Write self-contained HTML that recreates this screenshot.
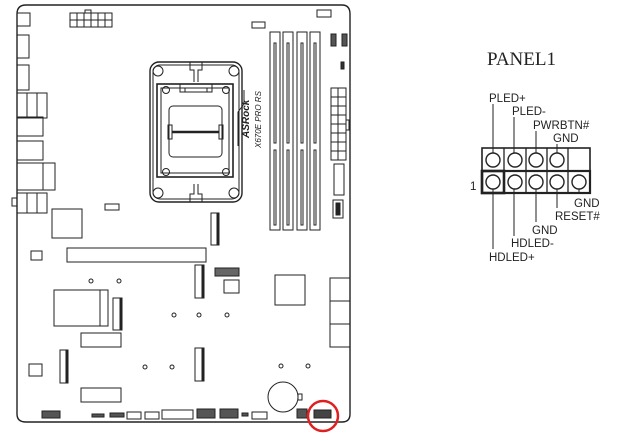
<!DOCTYPE html>
<html><head><meta charset="utf-8"><style>
html,body{margin:0;padding:0;background:#fff;width:621px;height:441px;overflow:hidden}
svg{display:block}
</style></head><body>
<svg width="621" height="441" viewBox="0 0 621 441" xmlns="http://www.w3.org/2000/svg">
<g fill="none" stroke="#222" stroke-width="1">
<!-- board -->
<path d="M17 14 Q17 5 26 5 L342 5 Q350 5 350 14 L350 414 Q350 422 342 422 L26 422 Q17 422 17 414 Z" stroke-width="1.4"/>
<!-- top power -->
<rect x="70" y="13" width="28" height="14"/><path d="M77 13v14M84 13v14M91 13v14M70 20h28"/>
<rect x="98" y="13" width="14" height="14"/><path d="M105 13v14M98 20h14"/>
<rect x="85" y="10" width="6" height="3"/>
<!-- left IO -->
<rect x="17" y="13" width="13" height="13"/>
<rect x="17" y="35" width="12" height="23"/>
<rect x="17" y="65" width="12" height="25"/>
<rect x="17" y="93" width="30" height="25"/><path d="M27 93v25M37 93v25"/>
<rect x="17" y="117" width="26" height="19"/>
<rect x="17" y="141" width="26" height="19"/>
<rect x="17" y="163" width="38" height="27"/><path d="M43 163v27"/>
<rect x="17" y="193" width="30" height="20"/><path d="M27 193v20M37 193v20"/>
<rect x="12" y="198" width="5" height="8"/>
<!-- fan headers top -->
<rect x="252" y="22" width="13" height="6"/>
<rect x="317" y="10" width="14" height="7"/>
<rect x="105" y="204" width="14" height="6"/>
<!-- DIMMs -->
<rect x="270" y="32" width="10" height="198"/><rect x="274" y="43" width="2" height="100"/><rect x="274" y="150" width="2" height="75"/>
<rect x="283" y="32" width="10" height="198"/><rect x="287" y="43" width="2" height="100"/><rect x="287" y="150" width="2" height="75"/>
<rect x="297" y="32" width="10" height="198"/><rect x="301" y="43" width="2" height="100"/><rect x="301" y="150" width="2" height="75"/>
<rect x="310" y="32" width="10" height="198"/><rect x="314" y="43" width="2" height="100"/><rect x="314" y="150" width="2" height="75"/>
<!-- right headers -->
<rect x="331" y="34" width="5" height="12" fill="#555"/><rect x="342" y="34" width="5" height="12" fill="#555"/>
<rect x="341" y="62" width="3" height="7" fill="#333"/>
<rect x="331" y="88" width="15" height="72"/><path d="M338 88v72M331 97h15M331 106h15M331 115h15M331 124h15M331 133h15M331 142h15M331 151h15"/>
<rect x="346" y="120" width="3" height="10"/>
<rect x="334" y="164" width="10" height="31"/>
<rect x="333" y="200" width="10" height="18"/><rect x="336" y="203" width="4" height="12" fill="#222"/>
<!-- CPU socket -->
<rect x="150" y="62" width="92" height="140" rx="9" stroke-width="1.4"/>
<rect x="153" y="65" width="86" height="134" rx="7"/>
<rect x="157" y="84" width="76" height="93" stroke-width="1.6"/>
<rect x="161" y="88" width="68" height="85"/>
<rect x="169" y="106" width="53" height="51" rx="4"/>
<rect x="168" y="125" width="4" height="14"/><rect x="219" y="125" width="4" height="14"/>
<path d="M172 132h47" stroke-width="2.5"/>
<circle cx="158" cy="71" r="5"/><circle cx="234" cy="71" r="5"/><circle cx="158" cy="193" r="5"/><circle cx="234" cy="193" r="5"/>
<circle cx="166" cy="90" r="3.5"/><circle cx="226" cy="90" r="3.5"/><circle cx="166" cy="172" r="3.5"/><circle cx="226" cy="172" r="3.5"/>
<path d="M190 62v8h4v12M202 62v8h-4v12M190 202v-8h4v-10M202 202v-8h-4v-10"/>
<path d="M180 84v8h32v-8M185 88v4M207 88v4"/>
<path d="M238 146V112l6-8v-14"/>
<!-- chips -->
<rect x="52" y="209" width="30" height="29"/>
<rect x="211" y="213" width="8" height="32"/><rect x="217" y="214" width="2" height="30" fill="#222"/>
<rect x="67" y="248" width="139" height="14"/>
<rect x="31" y="251" width="11" height="9"/>
<rect x="195" y="265" width="9" height="33"/><rect x="202" y="266" width="2" height="31" fill="#222"/>
<rect x="215" y="268" width="24" height="8" fill="#666"/>
<rect x="224" y="280" width="15" height="13"/>
<rect x="54" y="290" width="46" height="36"/><rect x="100" y="290" width="8" height="36"/>
<rect x="113" y="298" width="9" height="32"/><rect x="120" y="299" width="2" height="30" fill="#222"/>
<rect x="275" y="275" width="30" height="30"/>
<rect x="330" y="278" width="20" height="23"/><rect x="330" y="301" width="20" height="23"/><rect x="330" y="324" width="20" height="23"/>
<rect x="81" y="333" width="40" height="14"/>
<rect x="81" y="388" width="40" height="14"/>
<rect x="60" y="350" width="8" height="33"/><rect x="66" y="351" width="2" height="31" fill="#222"/>
<rect x="29" y="364" width="13" height="12"/>
<rect x="195" y="348" width="9" height="33"/><rect x="202" y="349" width="2" height="31" fill="#222"/>
<circle cx="91" cy="281" r="2"/><circle cx="119" cy="281" r="2"/>
<circle cx="174" cy="315" r="2"/><circle cx="199" cy="315" r="2"/><circle cx="227" cy="315" r="2"/>
<circle cx="145" cy="367" r="2"/><circle cx="172" cy="367" r="2"/>
<circle cx="281" cy="366" r="2"/><circle cx="308" cy="366" r="2"/>
<circle cx="283" cy="397" r="15"/><rect x="298" y="394" width="4" height="6"/>
<!-- bottom headers -->
<rect x="42" y="411" width="18" height="7" fill="#555"/>
<rect x="92" y="414" width="12" height="3" fill="#555"/>
<rect x="110" y="413" width="14" height="4" fill="#555"/>
<rect x="127" y="412" width="14" height="7"/>
<rect x="145" y="412" width="14" height="7"/>
<rect x="162" y="410" width="31" height="9"/>
<rect x="197" y="409" width="18" height="9" fill="#555"/>
<rect x="220" y="409" width="18" height="9" fill="#555"/>
<rect x="242" y="413" width="6" height="3" fill="#555"/>
<rect x="252" y="412" width="15" height="7"/>
<rect x="297" y="409" width="10" height="9" fill="#555"/>
<rect x="314" y="410" width="17" height="8" fill="#444"/>
</g>
<text x="0" y="0" transform="translate(249,138) rotate(-90)" font-family="Liberation Sans, sans-serif" font-size="10" font-weight="bold" font-style="italic" fill="#222">ASRock</text>
<text x="0" y="0" transform="translate(261,148) rotate(-90)" font-family="Liberation Sans, sans-serif" font-size="8" font-style="italic" fill="#222">X670E PRO RS</text>
<circle cx="323" cy="416" r="15" fill="none" stroke="#e02020" stroke-width="2.5"/>
<!-- PANEL -->
<text x="487" y="65" font-family="Liberation Serif, serif" font-size="19" fill="#222">PANEL1</text>
<g fill="none" stroke="#222">
<rect x="482" y="148" width="108" height="23" stroke-width="1.6"/>
<rect x="482" y="171" width="108" height="22" stroke-width="2.2"/>
<rect x="482" y="171" width="22" height="22" stroke-width="2.6"/>
<path d="M504 148v45M526 148v45M547 148v45M568 148v45" stroke-width="1.3"/>
<g stroke-width="1.4">
<circle cx="493" cy="160" r="7"/><circle cx="515" cy="160" r="7"/><circle cx="536" cy="160" r="7"/><circle cx="557" cy="160" r="7"/>
<circle cx="493" cy="182" r="7"/><circle cx="515" cy="182" r="7"/><circle cx="536" cy="182" r="7"/><circle cx="557" cy="182" r="7"/><circle cx="579" cy="182" r="7"/>
</g>
<path d="M493 104v49M514 117v36M536 131v22M557 144v9"/>
<path d="M493 189v60M514 189v47M536 189v33M557 189v19M579 189v4"/>
</g>
<g font-family="Liberation Sans, sans-serif" font-size="11.5" fill="#222">
<text x="489" y="102">PLED+</text>
<text x="512" y="115">PLED-</text>
<text x="533" y="129">PWRBTN#</text>
<text x="553" y="142">GND</text>
<text x="470" y="190">1</text>
<text x="574" y="207">GND</text>
<text x="555" y="220">RESET#</text>
<text x="532" y="234">GND</text>
<text x="511" y="247">HDLED-</text>
<text x="489" y="261">HDLED+</text>
</g>
</svg>
</body></html>
